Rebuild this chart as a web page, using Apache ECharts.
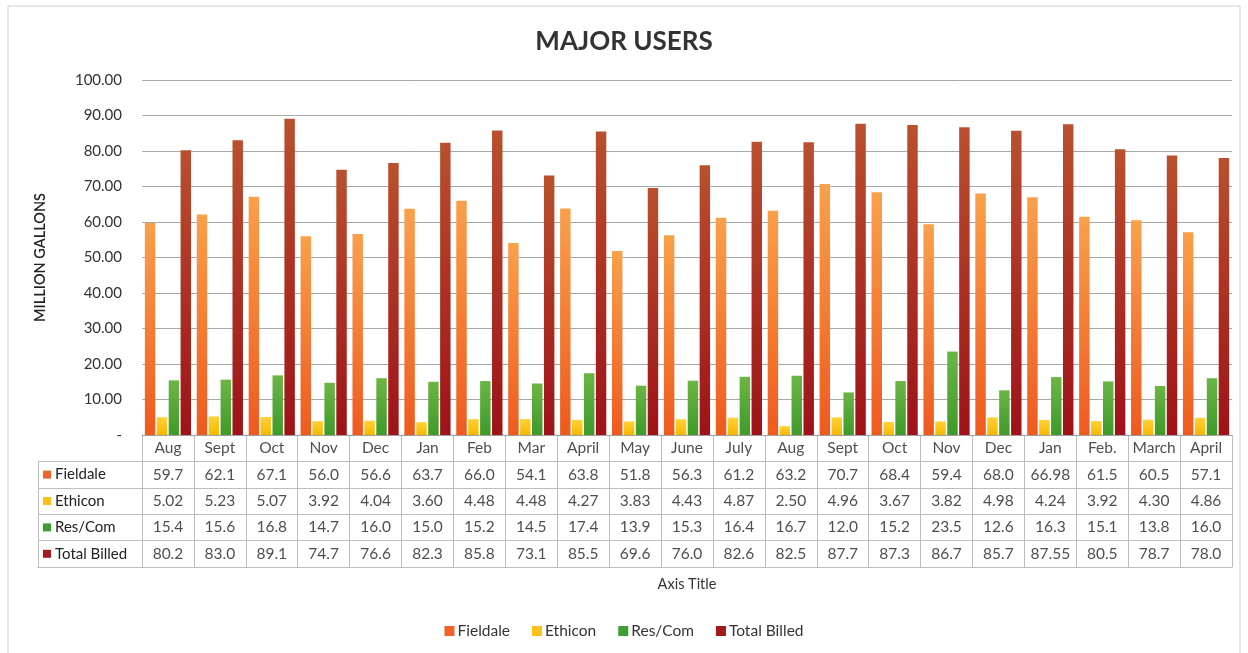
<!DOCTYPE html>
<html><head><meta charset="utf-8">
<script src="https://cdn.jsdelivr.net/npm/echarts@6/dist/echarts.min.js"></script>
<style>html,body{margin:0;padding:0;background:#fff}#c{width:1248px;height:653px}</style>
</head><body><div id="c"></div>
<script>
const categories = ['Aug','Sept','Oct','Nov','Dec','Jan','Feb','Mar','April','May','June','July','Aug','Sept','Oct','Nov','Dec','Jan','Feb.','March','April'];
const fieldale = [59.7,62.1,67.1,56.0,56.6,63.7,66.0,54.1,63.8,51.8,56.3,61.2,63.2,70.7,68.4,59.4,68.0,66.98,61.5,60.5,57.1];
const ethicon = [5.02,5.23,5.07,3.92,4.04,3.60,4.48,4.48,4.27,3.83,4.43,4.87,2.50,4.96,3.67,3.82,4.98,4.24,3.92,4.30,4.86];
const resCom = [15.4,15.6,16.8,14.7,16.0,15.0,15.2,14.5,17.4,13.9,15.3,16.4,16.7,12.0,15.2,23.5,12.6,16.3,15.1,13.8,16.0];
const totalBilled = [80.2,83.0,89.1,74.7,76.6,82.3,85.8,73.1,85.5,69.6,76.0,82.6,82.5,87.7,87.3,86.7,85.7,87.55,80.5,78.7,78.0];
const seriesNames = ['Fieldale','Ethicon','Res/Com','Total Billed'];
const yTicks = {min:0, max:100, interval:10};

const FONT = 'Lato, "Open Sans", sans-serif';
const legendColors = ['#F0622A','#F9C21A','#3C9E35','#A31A1A'];
const grads = [
  ['#F9A04A','#EE5A1E'],
  ['#FFD23A','#F5B800'],
  ['#6CB545','#3E9A2A'],
  ['#B9502E','#9E1218']
];
const decimals = [1,2,1,1];
const allData = [fieldale, ethicon, resCom, totalBilled];
function fmt(v,d){ const s=v.toFixed(d); return (parseFloat(s)===v)? s : String(v); }

const tableData = [];
categories.forEach((m,i)=>tableData.push({value:[i,0],label:m}));
allData.forEach((arr,r)=>arr.forEach((v,i)=>tableData.push({value:[i,r+1],label:fmt(v,decimals[r])})));

const grad = (c)=>new echarts.graphic.LinearGradient(0,0,0,1,[{offset:0,color:c[0]},{offset:1,color:c[1]}]);
const lineC = '#BDBDBD';

const option = {
  animation:false,
  backgroundColor:'#fff',
  textStyle:{fontFamily:FONT},
  title:{text:'MAJOR USERS',left:'center',top:24,textStyle:{fontFamily:FONT,fontSize:26,fontWeight:'bold',color:'#333'}},
  legend:{bottom:9,left:'center',itemWidth:10,itemHeight:10,itemGap:22,icon:'rect',
    textStyle:{fontFamily:FONT,fontSize:15.5,color:'#333',padding:[0,0,0,-2]},
    data:seriesNames.map((nm,i)=>({name:nm,itemStyle:{color:legendColors[i]}}))},
  graphic:[{type:'rect',shape:{x:8,y:6,width:1232,height:700},style:{fill:'none',stroke:'#D0D0D0',lineWidth:1},silent:true,z:-10}],
  grid:[
    {left:142,right:16,top:80,bottom:218},
    {left:142,right:16,top:435,height:132},
    {left:38,width:104,top:461.4,height:105.6}
  ],
  xAxis:[
    {type:'category',gridIndex:0,data:categories,axisTick:{show:false},axisLabel:{show:false},axisLine:{lineStyle:{color:'#A0A0A0'}}},
    {type:'category',gridIndex:1,data:categories,axisTick:{show:false},axisLabel:{show:false},
      axisLine:{show:true,lineStyle:{color:lineC}},splitLine:{show:true,lineStyle:{color:lineC}},
      name:'Axis Title',nameLocation:'middle',nameGap:10,nameTextStyle:{fontFamily:FONT,fontSize:14.5,color:'#333'}},
    {type:'category',gridIndex:2,data:[''],axisTick:{show:false},axisLabel:{show:false},
      axisLine:{show:true,lineStyle:{color:lineC}},splitLine:{show:true,lineStyle:{color:lineC}}}
  ],
  yAxis:[
    {type:'value',gridIndex:0,min:yTicks.min,max:yTicks.max,interval:yTicks.interval,
      axisLabel:{margin:20,fontFamily:FONT,fontSize:15,color:'#333',formatter:v=>v===0?'-':v.toFixed(2)},
      splitLine:{lineStyle:{color:'#A8A8A8'}},axisLine:{show:false},axisTick:{show:false},
      name:'MILLION GALLONS',nameLocation:'middle',nameGap:94,nameTextStyle:{fontFamily:FONT,fontSize:14.5,fontWeight:600,color:'#222'}},
    {type:'category',gridIndex:1,inverse:true,data:['h'].concat(seriesNames),axisTick:{show:false},axisLabel:{show:false},
      axisLine:{show:true,lineStyle:{color:lineC}},splitLine:{show:true,lineStyle:{color:lineC}}},
    {type:'category',gridIndex:2,inverse:true,data:seriesNames,axisTick:{show:false},
      axisLine:{show:true,lineStyle:{color:lineC}},splitLine:{show:true,lineStyle:{color:lineC}},
      axisLabel:{inside:true,margin:5,align:'left',
        formatter:(v,i)=>'{s'+i+'|}{t|'+v+'}',
        rich:{
          s0:{width:8,height:8,backgroundColor:legendColors[0]},
          s1:{width:8,height:8,backgroundColor:legendColors[1]},
          s2:{width:8,height:8,backgroundColor:legendColors[2]},
          s3:{width:8,height:8,backgroundColor:legendColors[3]},
          t:{fontFamily:FONT,fontSize:15,color:'#222',padding:[0,0,0,4]}
        }}}
  ],
  series: allData.map((arr,i)=>({
    name:seriesNames[i],type:'bar',xAxisIndex:0,yAxisIndex:0,data:arr,
    barCategoryGap:'11%',barGap:'14%',
    itemStyle:{color:grad(grads[i])}
  })).concat([{
    type:'scatter',xAxisIndex:1,yAxisIndex:1,symbolSize:0,silent:true,
    data:tableData,
    label:{show:true,position:'inside',fontFamily:FONT,fontSize:15.5,color:'#222',formatter:p=>p.data.label}
  }])
};
echarts.init(document.getElementById('c')).setOption(option);
</script></body></html>
